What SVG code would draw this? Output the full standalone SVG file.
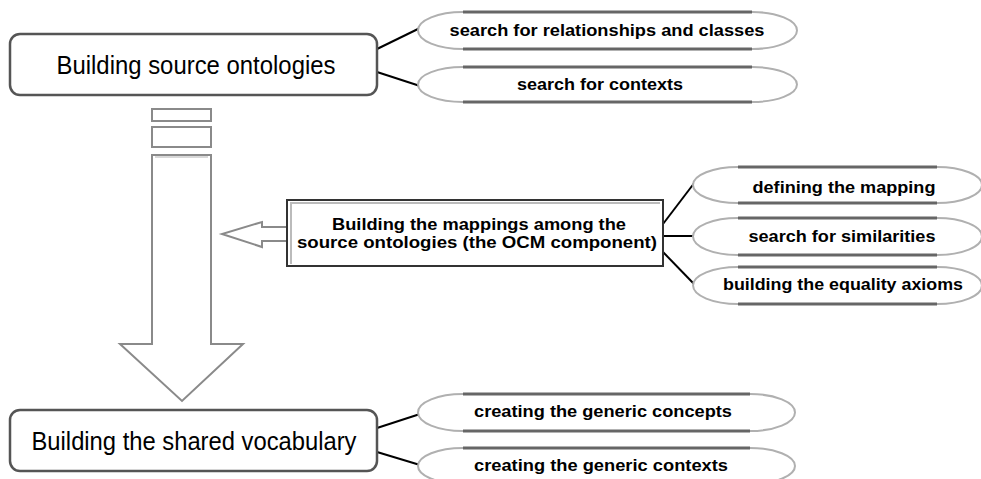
<svg xmlns="http://www.w3.org/2000/svg" width="981" height="479" viewBox="0 0 981 479">
<style>
.box{fill:#fff;stroke:#555;stroke-width:2.5}
.big{font-family:"Liberation Sans",Arial,sans-serif;font-size:26px;fill:#000}
.sm{font-family:"Liberation Sans",Arial,sans-serif;font-size:17px;font-weight:bold;fill:#000}
.ell{fill:#fff;stroke:#b0b0b0;stroke-width:2}
.edge{stroke:#666;stroke-width:3}
.arrow{fill:#fff;stroke:#8a8a8a;stroke-width:2}
.conn{stroke:#000;stroke-width:2;fill:none}
</style>
<rect width="981" height="479" fill="#fff"/>

<g id="connectors">
<line class="conn" x1="377" y1="49" x2="420" y2="28"/>
<line class="conn" x1="377" y1="72" x2="420" y2="86"/>
<line class="conn" x1="663" y1="224" x2="695" y2="182"/>
<line class="conn" x1="663" y1="236" x2="695" y2="236"/>
<line class="conn" x1="663" y1="252" x2="695" y2="285"/>
<line class="conn" x1="377" y1="428" x2="420" y2="414"/>
<line class="conn" x1="377" y1="452" x2="420" y2="465"/>
</g>

<g id="down-arrow">
<rect class="arrow" x="152" y="109" width="59" height="12"/>
<rect class="arrow" x="152" y="127" width="59" height="20"/>
<path class="arrow" d="M152,155 H211 V344 H243 L182,401 L120,344 H152 Z"/>
<line x1="155" y1="157" x2="208" y2="157" stroke="#d8d8d8" stroke-width="2"/>
</g>

<g id="left-arrow">
<path class="arrow" d="M290,227 H262 V222 L222,234 L262,247 V241 H290"/>
</g>

<g id="n-source">
<rect class="box" x="10" y="34" width="367" height="61" rx="10"/>
<text class="big" x="196" y="74" text-anchor="middle" textLength="279" lengthAdjust="spacingAndGlyphs">Building source ontologies</text>
</g>

<g id="n-rel">
<path class="ell" d="M463,12 H752 A45 18.5 0 0 1 752,49 H463 A45 18.5 0 0 1 463,12 Z"/>
<path class="edge" d="M463,12 H752 M463,49 H752"/>
<text class="sm" x="607" y="36" text-anchor="middle" textLength="315" lengthAdjust="spacingAndGlyphs">search for relationships and classes</text>
</g>

<g id="n-ctx">
<path class="ell" d="M463,67 H752 A45 17.5 0 0 1 752,102 H463 A45 17.5 0 0 1 463,67 Z"/>
<path class="edge" d="M463,67 H752 M463,102 H752"/>
<text class="sm" x="600" y="90" text-anchor="middle" textLength="166" lengthAdjust="spacingAndGlyphs">search for contexts</text>
</g>

<g id="n-mapping">
<rect x="287" y="200" width="376" height="66" fill="#fff" stroke="#333" stroke-width="2"/>
<polyline points="291,264 291,203 660,203" fill="none" stroke="#bbb" stroke-width="2"/>
<text class="sm" x="479" y="230" text-anchor="middle" textLength="294" lengthAdjust="spacingAndGlyphs">Building the mappings among the</text>
<text class="sm" x="477" y="248" text-anchor="middle" textLength="360" lengthAdjust="spacingAndGlyphs">source ontologies (the OCM component)</text>
</g>

<g id="n-define">
<path class="ell" d="M738,167 H937 A45 18 0 0 1 937,203 H738 A45 18 0 0 1 738,167 Z"/>
<path class="edge" d="M738,167 H937 M738,203 H937"/>
<text class="sm" x="844" y="193" text-anchor="middle" textLength="183" lengthAdjust="spacingAndGlyphs">defining the mapping</text>
</g>

<g id="n-sim">
<path class="ell" d="M738,218 H937 A45 18.5 0 0 1 937,255 H738 A45 18.5 0 0 1 738,218 Z"/>
<path class="edge" d="M738,218 H937 M738,255 H937"/>
<text class="sm" x="842" y="242" text-anchor="middle" textLength="187" lengthAdjust="spacingAndGlyphs">search for similarities</text>
</g>

<g id="n-axioms">
<path class="ell" d="M738,267 H937 A45 18.5 0 0 1 937,304 H738 A45 18.5 0 0 1 738,267 Z"/>
<path class="edge" d="M738,267 H937 M738,304 H937"/>
<text class="sm" x="843" y="290" text-anchor="middle" textLength="240" lengthAdjust="spacingAndGlyphs">building the equality axioms</text>
</g>

<g id="n-shared">
<rect class="box" x="10" y="410" width="367" height="61" rx="10"/>
<text class="big" x="194" y="450" text-anchor="middle" textLength="325" lengthAdjust="spacingAndGlyphs">Building the shared vocabulary</text>
</g>

<g id="n-concepts">
<path class="ell" d="M463,394 H750 A45 18.5 0 0 1 750,431 H463 A45 18.5 0 0 1 463,394 Z"/>
<path class="edge" d="M463,394 H750 M463,431 H750"/>
<text class="sm" x="603" y="417" text-anchor="middle" textLength="258" lengthAdjust="spacingAndGlyphs">creating the generic concepts</text>
</g>

<g id="n-gctx">
<path class="ell" d="M463,448 H750 A45 18 0 0 1 750,484 H463 A45 18 0 0 1 463,448 Z"/>
<path class="edge" d="M463,448 H750"/>
<text class="sm" x="601" y="471" text-anchor="middle" textLength="254" lengthAdjust="spacingAndGlyphs">creating the generic contexts</text>
</g>
</svg>
